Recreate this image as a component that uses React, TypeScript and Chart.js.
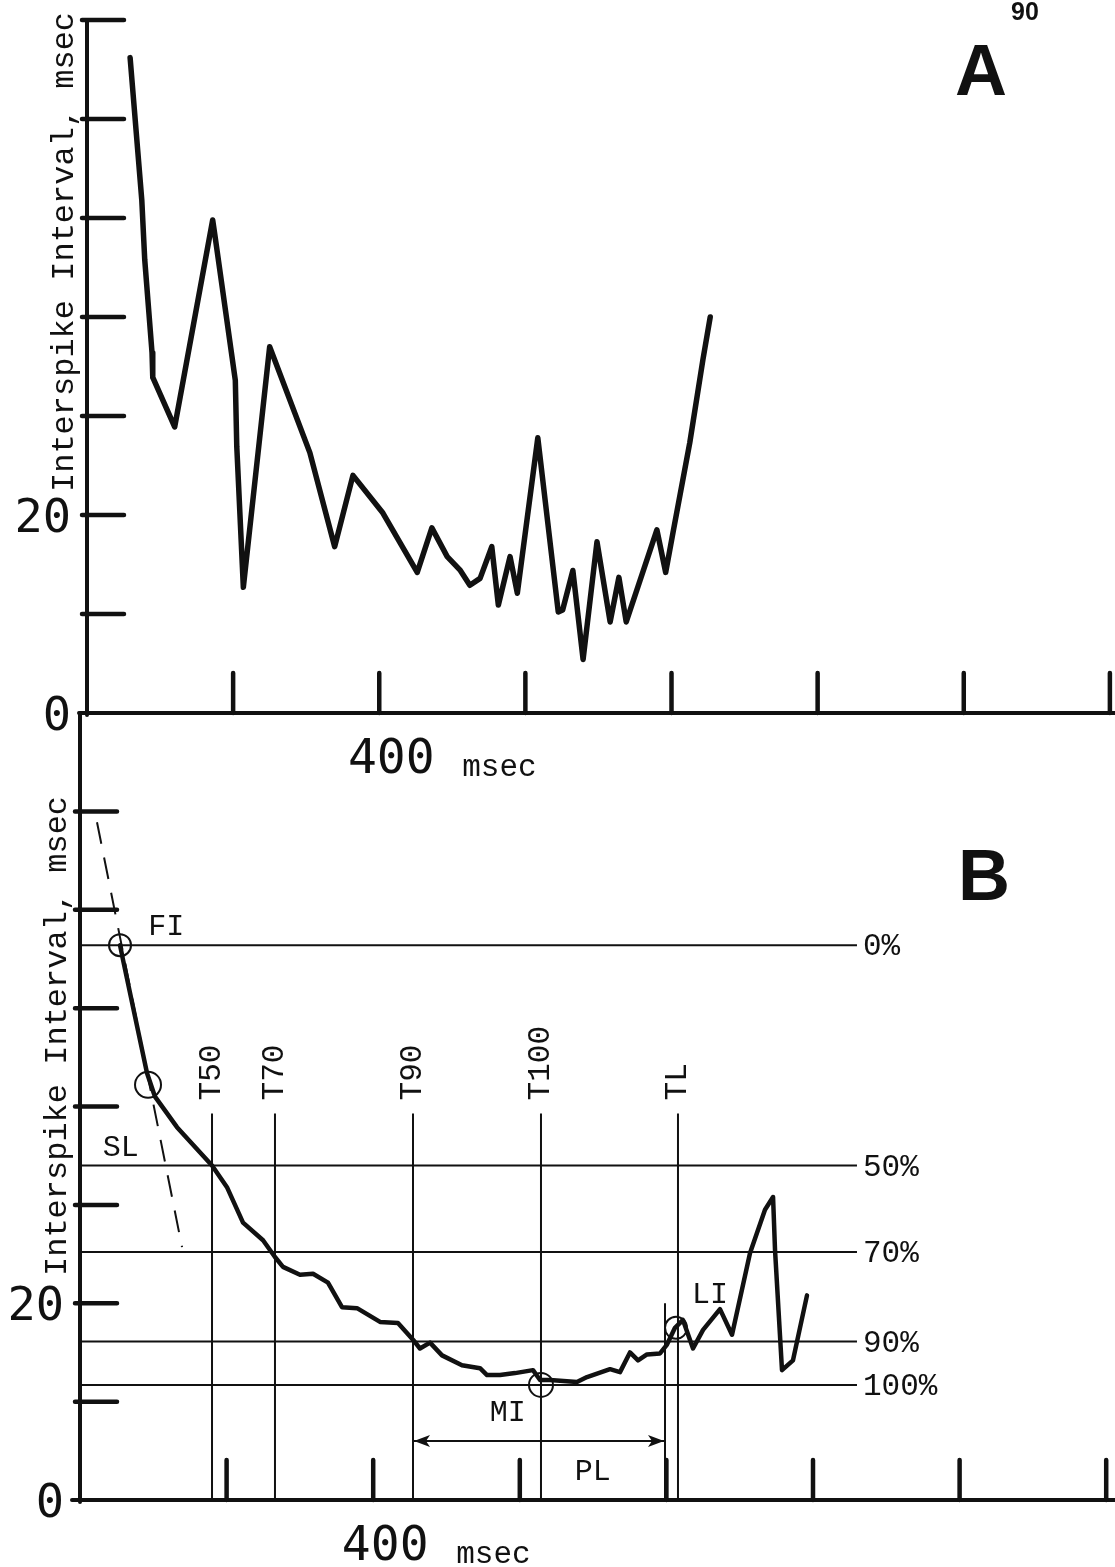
import { useEffect, useRef } from 'react';
import { Chart, registerables } from 'chart.js';

Chart.register(...registerables);

const INK = '#111111';
const MONO = '"Liberation Mono", "DejaVu Sans Mono", monospace';
const PLOT = '"DejaVu Sans Mono", monospace';
const SANS = '"Liberation Sans", Arial, sans-serif';

// ---------- Panel A : raw interspike intervals ----------
const timeA = [59, 75, 79, 89, 90, 120, 172, 175, 203, 205, 214, 250, 305, 339, 364, 405, 452, 472, 493, 511, 524, 538, 554, 563, 579, 589, 617, 645, 651, 665, 679, 698, 716, 728, 738, 780, 792, 802, 825, 843, 853];
const intervalA = [66.2, 51.8, 45.8, 36.4, 33.9, 28.9, 49.8, 48.3, 33.6, 26.9, 12.7, 37.0, 26.3, 16.8, 24.0, 20.2, 14.2, 18.7, 15.8, 14.4, 12.9, 13.6, 16.8, 10.9, 15.8, 12.1, 27.8, 10.2, 10.4, 14.4, 5.4, 17.3, 9.2, 13.7, 9.2, 18.5, 14.2, 18.2, 27.3, 35.7, 40.0];

// ---------- Panel B : smoothed intervals with measures ----------
const timeB = [54.6, 58.7, 91.4, 102.3, 132.3, 180.1, 200.5, 222.4, 249.7, 266.0, 276.9, 300.1, 317.9, 338.3, 357.4, 377.9, 409.3, 433.8, 454.3, 463.8, 477.5, 493.9, 521.1, 545.7, 555.3, 573.0, 593.5, 618.0, 627.6, 641.2, 678.0, 691.7, 723.1, 736.7, 750.3, 761.3, 773.5, 791.3, 800.8, 811.7, 822.6, 836.3, 850.0, 873.1, 889.5, 914.1, 934.5, 945.5, 948.2, 957.7, 972.7, 991.8];
const intervalB = [56.4, 54.9, 43.4, 41.0, 37.9, 34.0, 31.8, 28.2, 26.4, 24.7, 23.7, 22.9, 23.0, 22.1, 19.6, 19.5, 18.1, 18.0, 16.3, 15.4, 16.0, 14.7, 13.7, 13.4, 12.7, 12.7, 12.9, 13.2, 12.2, 12.2, 12.0, 12.5, 13.3, 13.0, 15.0, 14.2, 14.8, 14.9, 15.8, 17.5, 18.3, 15.4, 17.3, 19.4, 16.8, 25.1, 29.5, 30.8, 25.4, 13.2, 14.2, 20.8];

const levelValues = [56.4, 34.0, 25.2, 16.1, 11.7];
const levelLabels = ['0%', '50%', '70%', '90%', '100%'];
const levelEnd = 1060;

const markerTimes = [180.1, 266.0, 454.3, 628.9, 815.8];
const markerLabels = ['T50', 'T70', 'T90', 'T100', 'TL'];
const markerTop = 39.3;

const plEndTime = 798.1;
const plEndTop = 20.0;
const plArrowLevel = 6.0;

const slopeTimes = [23.2, 139.2];
const slopeValues = [68.9, 25.7];

const circleTimes = [54.6, 92.8, 628.9, 813.1];
const circleValues = [56.4, 42.2, 11.7, 17.5];
const circleRadii = [11, 13, 12, 11];

const textLabels = ['FI', 'SL', 'MI', 'PL', 'LI'];
const textTimes = [93, 31, 559, 675, 835];
const textValues = [58.2, 35.8, 8.8, 2.8, 20.8];

// ---------- Axes ----------
const xTickValues = [200, 400, 600, 800, 1000, 1200, 1400];
const yTickValues = [10, 20, 30, 40, 50, 60, 70];
const yLabelValues = [0, 20];
const xLabelValue = 400;
const yTitle = 'Interspike Interval, msec';
const xUnit = 'msec';

function drawFrame(chart: any, titleStartY: number) {
  const { ctx, chartArea, scales } = chart;
  const xs = scales.x;
  const ys = scales.y;
  const x0 = xs.getPixelForValue(0);
  const y0 = ys.getPixelForValue(0);
  ctx.save();
  ctx.strokeStyle = INK;
  ctx.fillStyle = INK;
  ctx.lineCap = 'round';
  ctx.lineWidth = 4;
  ctx.beginPath();
  ctx.moveTo(x0, chartArea.top);
  ctx.lineTo(x0, y0 + 2);
  ctx.moveTo(x0 - 8, y0);
  ctx.lineTo(chartArea.right, y0);
  ctx.stroke();
  ctx.lineWidth = 4.5;
  ctx.beginPath();
  for (const v of yTickValues) {
    const py = ys.getPixelForValue(v);
    ctx.moveTo(x0 - 5, py);
    ctx.lineTo(x0 + 37, py);
  }
  for (const v of xTickValues) {
    const px = xs.getPixelForValue(v);
    ctx.moveTo(px, y0);
    ctx.lineTo(px, y0 - 40);
  }
  ctx.stroke();

  ctx.font = `47px ${PLOT}`;
  ctx.textAlign = 'right';
  ctx.textBaseline = 'middle';
  for (const v of yLabelValues) {
    ctx.fillText(String(v), x0 - 16, ys.getPixelForValue(v) + 5);
  }
  const lx = xs.getPixelForValue(xLabelValue);
  ctx.textAlign = 'center';
  ctx.textBaseline = 'alphabetic';
  ctx.font = `48px ${PLOT}`;
  ctx.fillText(String(xLabelValue), lx + 12, y0 + 60);
  ctx.font = `31px ${MONO}`;
  ctx.textAlign = 'left';
  ctx.fillText(xUnit, lx + 83, y0 + 63);

  ctx.save();
  ctx.translate(x0 - 14, titleStartY);
  ctx.rotate(-Math.PI / 2);
  ctx.font = `32px ${MONO}`;
  ctx.textAlign = 'left';
  ctx.textBaseline = 'alphabetic';
  ctx.fillText(yTitle, 0, 0);
  ctx.restore();
  ctx.restore();
}

const pluginA = {
  id: 'frameA',
  afterDatasetsDraw(chart: any) {
    drawFrame(chart, 492);
    const { ctx } = chart;
    ctx.save();
    ctx.fillStyle = INK;
    ctx.font = `bold 72px ${SANS}`;
    ctx.textAlign = 'left';
    ctx.fillText('A', 955, 95);
    ctx.font = `bold 25px ${SANS}`;
    ctx.fillText('90', 1011, 20);
    ctx.restore();
  },
};

const pluginB = {
  id: 'frameB',
  afterDatasetsDraw(chart: any) {
    drawFrame(chart, 576);
    const { ctx, scales } = chart;
    const xs = scales.x;
    const ys = scales.y;
    ctx.save();
    ctx.fillStyle = INK;
    ctx.strokeStyle = INK;
    // panel letter
    ctx.font = `bold 72px ${SANS}`;
    ctx.textAlign = 'left';
    ctx.textBaseline = 'alphabetic';
    ctx.fillText('B', 958, 200);
    // level labels
    ctx.font = `31px ${MONO}`;
    ctx.textBaseline = 'middle';
    levelValues.forEach((v, i) => {
      ctx.fillText(levelLabels[i], xs.getPixelForValue(levelEnd) + 6, ys.getPixelForValue(v) + 2);
    });
    // marker labels (rotated)
    markerTimes.forEach((t, i) => {
      ctx.save();
      ctx.translate(xs.getPixelForValue(t), ys.getPixelForValue(markerTop) - 13);
      ctx.rotate(-Math.PI / 2);
      ctx.textAlign = 'left';
      ctx.textBaseline = 'middle';
      ctx.fillText(markerLabels[i], 0, 0);
      ctx.restore();
    });
    // text annotations
    ctx.font = `30px ${MONO}`;
    ctx.textAlign = 'left';
    textLabels.forEach((s, i) => {
      ctx.fillText(s, xs.getPixelForValue(textTimes[i]), ys.getPixelForValue(textValues[i]));
    });
    // PL arrowheads
    const ay = ys.getPixelForValue(plArrowLevel);
    const ax1 = xs.getPixelForValue(markerTimes[2]);
    const ax2 = xs.getPixelForValue(plEndTime);
    ctx.beginPath();
    ctx.moveTo(ax1 + 1, ay);
    ctx.lineTo(ax1 + 17, ay - 6);
    ctx.lineTo(ax1 + 13, ay);
    ctx.lineTo(ax1 + 17, ay + 6);
    ctx.closePath();
    ctx.fill();
    ctx.beginPath();
    ctx.moveTo(ax2 - 1, ay);
    ctx.lineTo(ax2 - 17, ay - 6);
    ctx.lineTo(ax2 - 13, ay);
    ctx.lineTo(ax2 - 17, ay + 6);
    ctx.closePath();
    ctx.fill();
    ctx.restore();
  },
};

const thin = { borderColor: INK, borderWidth: 2, pointRadius: 0, fill: false, tension: 0 };

function baseOptions(xMax: number, yMax: number, padding: any) {
  return {
    responsive: false,
    maintainAspectRatio: false,
    animation: false as const,
    devicePixelRatio: 1,
    layout: { padding, autoPadding: false },
    plugins: { legend: { display: false }, tooltip: { enabled: false } },
    scales: {
      x: { type: 'linear' as const, min: 0, max: xMax, display: false },
      y: { type: 'linear' as const, min: 0, max: yMax, display: false },
    },
  };
}

export default function App() {
  const refA = useRef<HTMLCanvasElement>(null);
  const refB = useRef<HTMLCanvasElement>(null);

  useEffect(() => {
    const chartA = new Chart(refA.current as HTMLCanvasElement, {
      type: 'line',
      data: {
        datasets: [
          {
            data: timeA.map((t, i) => ({ x: t, y: intervalA[i] })),
            borderColor: INK,
            borderWidth: 5.5,
            pointRadius: 0,
            tension: 0,
            borderJoinStyle: 'round',
            borderCapStyle: 'round',
          } as any,
        ],
      },
      options: baseOptions(1407, 70, { left: 87, top: 20, right: 0, bottom: 117 }) as any,
      plugins: [pluginA],
    });

    const datasetsB: any[] = [
      {
        data: timeB.map((t, i) => ({ x: t, y: intervalB[i] })),
        borderColor: INK,
        borderWidth: 4.5,
        pointRadius: 0,
        tension: 0,
        borderJoinStyle: 'round',
        borderCapStyle: 'round',
      },
      {
        ...thin,
        data: slopeTimes.map((t, i) => ({ x: t, y: slopeValues[i] })),
        borderDash: [22, 14],
      },
      ...levelValues.map((v) => ({ ...thin, data: [{ x: 0, y: v }, { x: levelEnd, y: v }] })),
      ...markerTimes.map((t) => ({ ...thin, data: [{ x: t, y: 0 }, { x: t, y: markerTop }] })),
      { ...thin, data: [{ x: plEndTime, y: 0 }, { x: plEndTime, y: plEndTop }] },
      { ...thin, data: [{ x: markerTimes[2], y: plArrowLevel }, { x: plEndTime, y: plArrowLevel }] },
      {
        data: circleTimes.map((t, i) => ({ x: t, y: circleValues[i] })),
        showLine: false,
        pointStyle: 'circle',
        pointRadius: circleRadii,
        pointBorderColor: INK,
        pointBorderWidth: 2,
        pointBackgroundColor: 'rgba(0,0,0,0)',
        borderColor: INK,
      },
    ];

    const chartB = new Chart(refB.current as HTMLCanvasElement, {
      type: 'line',
      data: { datasets: datasetsB },
      options: baseOptions(1412, 80, { left: 80, top: 13, right: 0, bottom: 67 }) as any,
      plugins: [pluginB],
    });

    return () => {
      chartA.destroy();
      chartB.destroy();
    };
  }, []);

  return (
    <div style={{ position: 'absolute', left: 0, top: 0, width: 1115, height: 1567, background: '#ffffff' }}>
      <canvas ref={refA} width={1115} height={830} style={{ position: 'absolute', left: 0, top: 0 }} />
      <canvas ref={refB} width={1115} height={867} style={{ position: 'absolute', left: 0, top: 700 }} />
    </div>
  );
}
